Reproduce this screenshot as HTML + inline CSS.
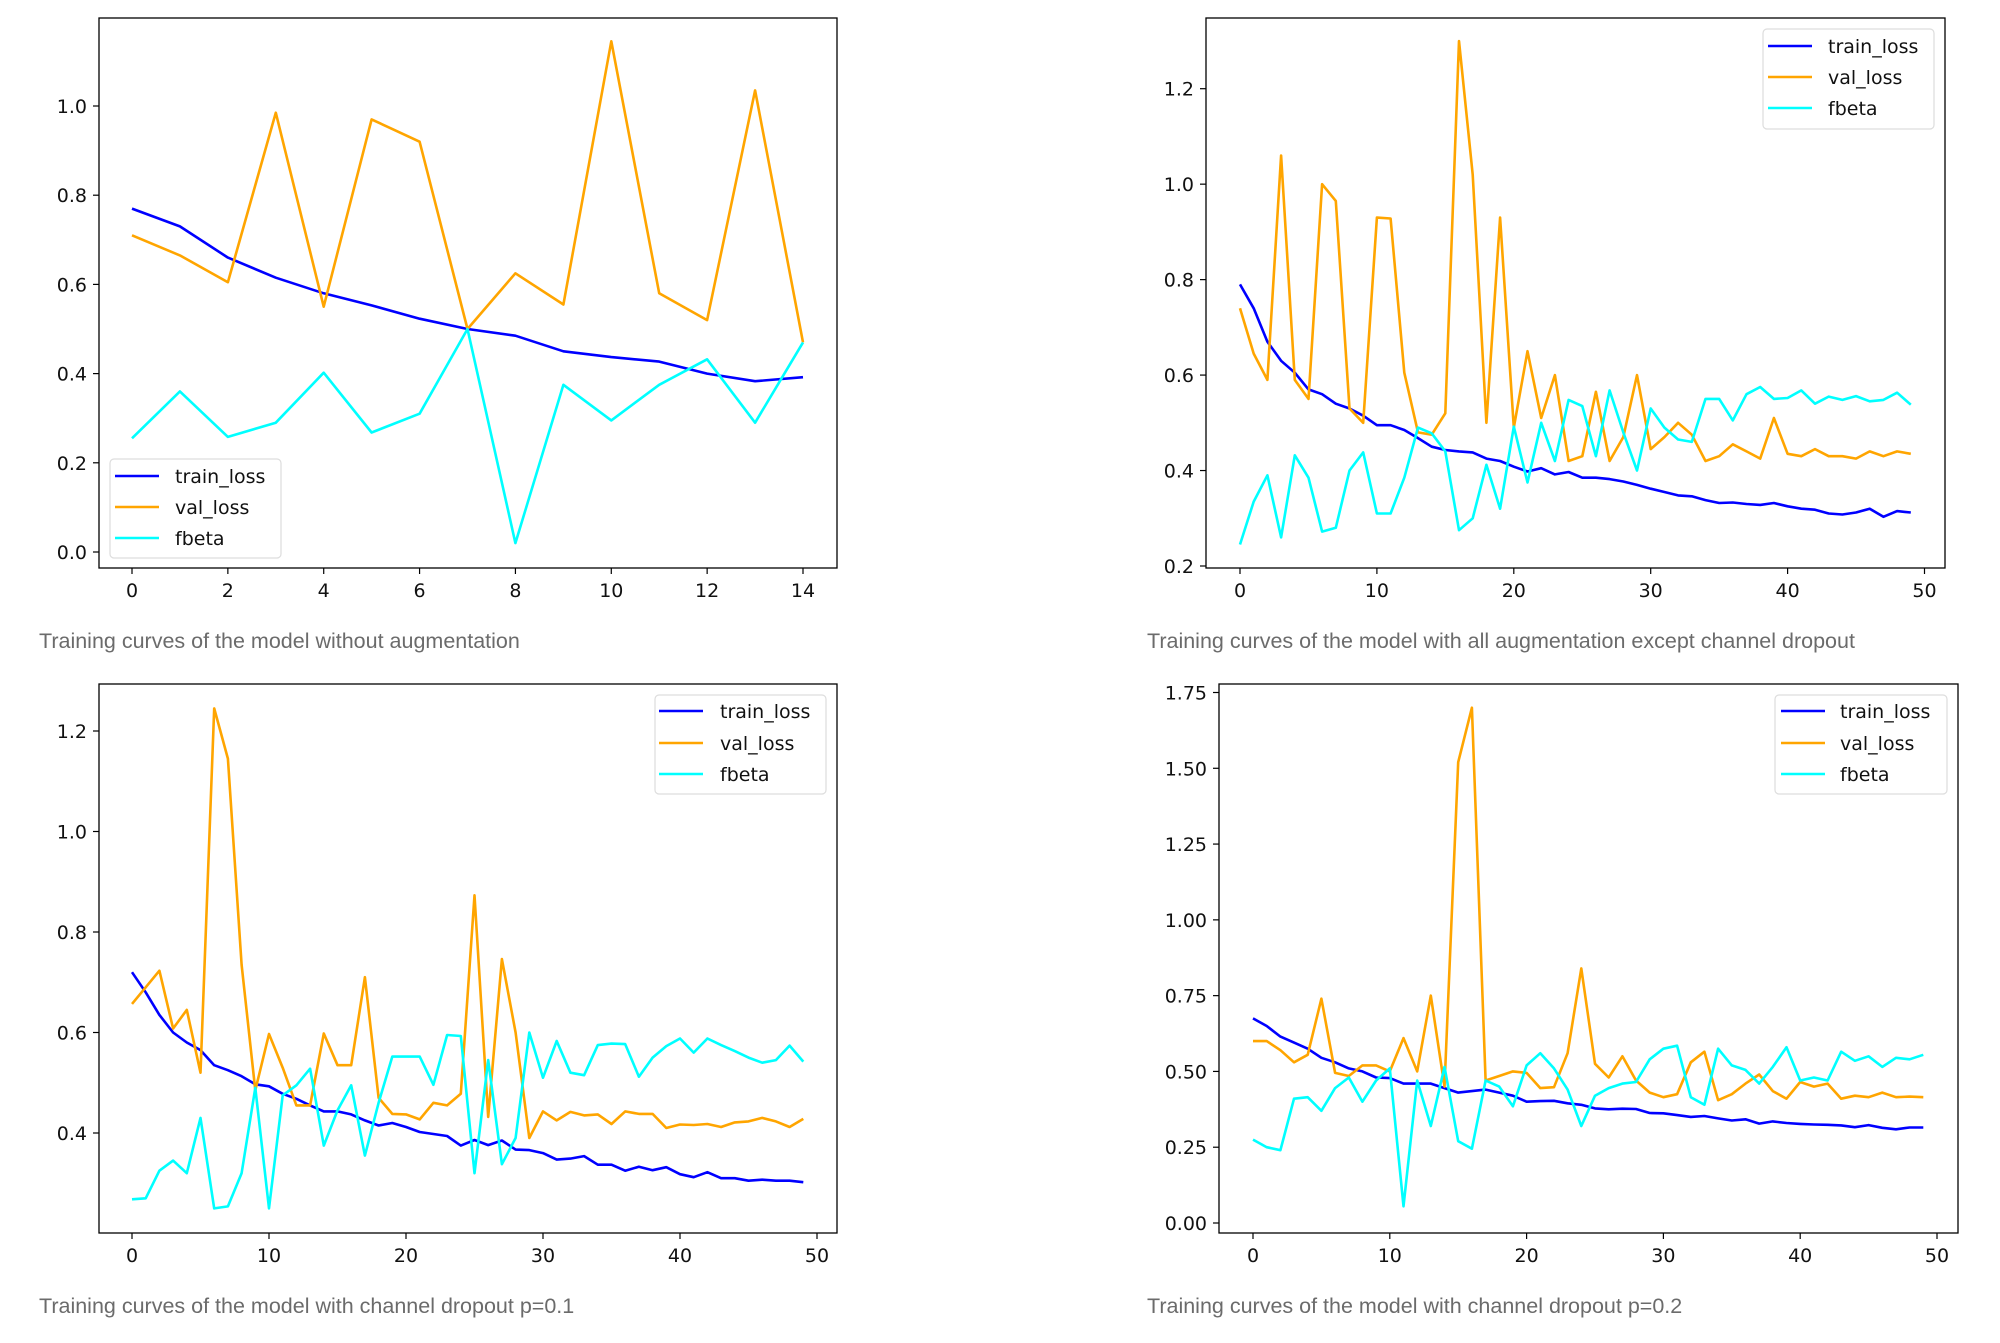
<!DOCTYPE html>
<html><head><meta charset="utf-8"><style>
body{margin:0;background:#fff;width:2000px;height:1343px;overflow:hidden;font-family:"DejaVu Sans","Liberation Sans",sans-serif}
svg{position:absolute;left:0;top:0}
</style></head><body>
<svg id="s" width="2000" height="1343" xmlns="http://www.w3.org/2000/svg"></svg>
<script>
const c1Train=[0.77,0.73,0.66,0.615,0.58,0.553,0.523,0.5,0.485,0.45,0.437,0.427,0.40,0.383,0.392];
const c1Val=[0.71,0.665,0.605,0.985,0.55,0.97,0.92,0.5,0.625,0.555,1.145,0.58,0.52,1.035,0.47];
const c1Fbeta=[0.255,0.36,0.258,0.29,0.402,0.268,0.31,0.5,0.02,0.375,0.295,0.375,0.432,0.29,0.47];
const c2Train=[0.79,0.74,0.67,0.63,0.605,0.57,0.56,0.54,0.53,0.515,0.495,0.495,0.485,0.468,0.45,0.443,0.44,0.438,0.425,0.42,0.408,0.398,0.405,0.392,0.397,0.385,0.385,0.382,0.377,0.37,0.362,0.355,0.348,0.346,0.338,0.332,0.333,0.33,0.328,0.332,0.325,0.32,0.318,0.31,0.308,0.312,0.32,0.303,0.315,0.312];
const c2Val=[0.74,0.645,0.59,1.06,0.59,0.55,1.0,0.965,0.53,0.5,0.93,0.928,0.605,0.48,0.475,0.52,1.3,1.02,0.5,0.93,0.49,0.65,0.51,0.6,0.42,0.43,0.565,0.42,0.47,0.6,0.445,0.47,0.5,0.475,0.42,0.43,0.455,0.44,0.425,0.51,0.435,0.43,0.445,0.43,0.43,0.425,0.44,0.43,0.44,0.435];
const c2Fbeta=[0.245,0.335,0.39,0.26,0.432,0.385,0.272,0.28,0.4,0.438,0.31,0.31,0.385,0.49,0.478,0.44,0.275,0.3,0.412,0.32,0.492,0.375,0.5,0.42,0.548,0.535,0.43,0.568,0.48,0.4,0.53,0.49,0.465,0.46,0.55,0.55,0.505,0.56,0.575,0.55,0.552,0.568,0.54,0.555,0.548,0.556,0.545,0.548,0.563,0.538];
const c3Train=[0.72,0.68,0.635,0.6,0.58,0.565,0.535,0.525,0.513,0.497,0.493,0.478,0.468,0.455,0.443,0.443,0.437,0.425,0.415,0.42,0.412,0.402,0.398,0.394,0.375,0.386,0.376,0.385,0.367,0.366,0.36,0.347,0.349,0.354,0.337,0.337,0.325,0.333,0.326,0.332,0.318,0.312,0.322,0.31,0.31,0.305,0.307,0.305,0.305,0.302];
const c3Val=[0.657,0.69,0.723,0.608,0.645,0.52,1.245,1.145,0.735,0.485,0.597,0.53,0.455,0.455,0.598,0.535,0.535,0.71,0.47,0.438,0.437,0.427,0.46,0.455,0.478,0.873,0.432,0.746,0.6,0.39,0.443,0.425,0.442,0.435,0.437,0.418,0.443,0.438,0.438,0.41,0.417,0.416,0.418,0.412,0.421,0.423,0.43,0.423,0.412,0.428];
const c3Fbeta=[0.268,0.27,0.325,0.345,0.32,0.43,0.25,0.254,0.32,0.49,0.25,0.475,0.495,0.528,0.375,0.445,0.495,0.355,0.46,0.552,0.552,0.552,0.496,0.595,0.593,0.32,0.545,0.338,0.39,0.6,0.51,0.583,0.52,0.515,0.575,0.578,0.577,0.512,0.55,0.573,0.588,0.56,0.588,0.575,0.563,0.55,0.54,0.545,0.574,0.542];
const c4Train=[0.675,0.65,0.615,0.595,0.575,0.545,0.53,0.51,0.5,0.48,0.478,0.46,0.46,0.46,0.445,0.43,0.435,0.44,0.43,0.42,0.4,0.402,0.403,0.395,0.39,0.378,0.375,0.377,0.376,0.363,0.362,0.356,0.35,0.353,0.345,0.338,0.342,0.328,0.335,0.33,0.327,0.325,0.324,0.322,0.316,0.323,0.314,0.309,0.315,0.315];
const c4Val=[0.6,0.6,0.57,0.53,0.555,0.74,0.495,0.485,0.52,0.52,0.5,0.61,0.5,0.75,0.45,1.52,1.7,0.47,0.485,0.5,0.495,0.445,0.448,0.56,0.84,0.525,0.48,0.55,0.47,0.43,0.415,0.425,0.53,0.565,0.405,0.425,0.46,0.49,0.435,0.41,0.465,0.45,0.46,0.41,0.42,0.415,0.43,0.415,0.417,0.415];
const c4Fbeta=[0.275,0.25,0.24,0.41,0.415,0.37,0.445,0.48,0.4,0.47,0.51,0.055,0.47,0.32,0.515,0.27,0.245,0.47,0.45,0.385,0.52,0.56,0.51,0.44,0.32,0.42,0.445,0.46,0.465,0.54,0.575,0.585,0.415,0.39,0.575,0.52,0.505,0.46,0.515,0.58,0.47,0.48,0.47,0.565,0.535,0.55,0.515,0.545,0.54,0.555];
const c1YTicks=["0.0","0.2","0.4","0.6","0.8","1.0"];
const c2YTicks=["0.2","0.4","0.6","0.8","1.0","1.2"];
const c3YTicks=["0.4","0.6","0.8","1.0","1.2"];
const c4YTicks=["0.00","0.25","0.50","0.75","1.00","1.25","1.50","1.75"];
const c1XTicks=["0","2","4","6","8","10","12","14"];
const c50XTicks=["0","10","20","30","40","50"];
const seriesNames=["train_loss","val_loss","fbeta"];
const captions=["Training curves of the model without augmentation","Training curves of the model with all augmentation except channel dropout","Training curves of the model with channel dropout p=0.1","Training curves of the model with channel dropout p=0.2"];

const NS="http://www.w3.org/2000/svg";
const svg=document.getElementById('s');
const colors=["#0000ff","#ffa500","#00ffff"];
function mk(tag,attrs,parent){const e=document.createElementNS(NS,tag);for(const k in attrs)e.setAttribute(k,attrs[k]);(parent||svg).appendChild(e);return e;}

const charts=[
 {box:[99,18,837,568],x0:132,x1:803,xv1:14,y0:552,yv0:0,y1:106,yv1:1.0,yt:c1YTicks,xt:c1XTicks,series:[c1Train,c1Val,c1Fbeta],leg:[110,459,281,558],legRows:[476,507,538],legLine:[115,159],legText:175,cap:[39,648]},
 {box:[1206,18,1945,568],x0:1240,x1:1924.5,xv1:50,y0:566,yv0:0.2,y1:88.7,yv1:1.2,yt:c2YTicks,xt:c50XTicks,series:[c2Train,c2Val,c2Fbeta],leg:[1763,29,1934,129],legRows:[46,77,108],legLine:[1768,1812],legText:1828,cap:[1147,648]},
 {box:[99,684,837,1233],x0:132,x1:817,xv1:50,y0:1133,yv0:0.4,y1:731,yv1:1.2,yt:c3YTicks,xt:c50XTicks,series:[c3Train,c3Val,c3Fbeta],leg:[655,695,826,794],legRows:[711,743,774],legLine:[659,703],legText:720,cap:[39,1313]},
 {box:[1219,684,1958,1233],x0:1253,x1:1937,xv1:50,y0:1223,yv0:0,y1:692.5,yv1:1.75,yt:c4YTicks,xt:c50XTicks,series:[c4Train,c4Val,c4Fbeta],leg:[1775,695,1947,794],legRows:[711,743,774],legLine:[1781,1825],legText:1840,cap:[1147,1313]}
];

charts.forEach((c,ci)=>{
  const g=mk('g',{});
  
  
  const xs=v=>c.x0+(c.x1-c.x0)*v/c.xv1;
  const ys=v=>c.y0+(c.y1-c.y0)*(v-c.yv0)/(c.yv1-c.yv0);
  const [L,T,R,B]=c.box;
  c.series.forEach((arr,si)=>{
    const p=mk('polyline',{points:arr.map((v,i)=>xs(i).toFixed(1)+','+ys(v).toFixed(1)).join(' '),fill:'none',stroke:colors[si],'stroke-width':2.6,'stroke-linejoin':'round'},g);
    
    
  });
  const frame=mk('rect',{x:L,y:T,width:R-L,height:B-T,fill:'none',stroke:'#000','stroke-width':1.3},g);
  
  
  c.yt.forEach(t=>{
    const y=ys(parseFloat(t));
    mk('line',{x1:L-6,x2:L,y1:y,y2:y,stroke:'#000','stroke-width':1.2},g);
    const tx=mk('text',{x:L-12,y:y+7,'text-anchor':'end','font-size':19,fill:'#111'},g);
    tx.textContent=t;
    
    
  });
  c.xt.forEach(t=>{
    const x=xs(parseFloat(t));
    mk('line',{x1:x,x2:x,y1:B,y2:B+6,stroke:'#000','stroke-width':1.2},g);
    const tx=mk('text',{x:x,y:B+29,'text-anchor':'middle','font-size':19,fill:'#111'},g);
    tx.textContent=t;
    
    
  });
  const [lx,ly,lr,lb]=c.leg;
  const lg=mk('g',{},g);
  
  
  mk('rect',{x:lx,y:ly,width:lr-lx,height:lb-ly,rx:4,fill:'#fff','fill-opacity':0.8,stroke:'#ddd','stroke-width':1.2},lg);
  seriesNames.forEach((n,si)=>{
    const y=c.legRows[si];
    const e=mk('g',{},lg);
    
    
    mk('line',{x1:c.legLine[0],x2:c.legLine[1],y1:y,y2:y,stroke:colors[si],'stroke-width':2.6},e);
    const t=mk('text',{x:c.legText,y:y+7,'font-size':19,fill:'#111'},e);
    t.textContent=n;
  });
  const cap=mk('text',{x:c.cap[0],y:c.cap[1],'font-size':21.5,fill:'#6b6b6b','font-family':'Liberation Sans, sans-serif'},g);
  cap.textContent=captions[ci];
  
  
});
</script>
</body></html>
